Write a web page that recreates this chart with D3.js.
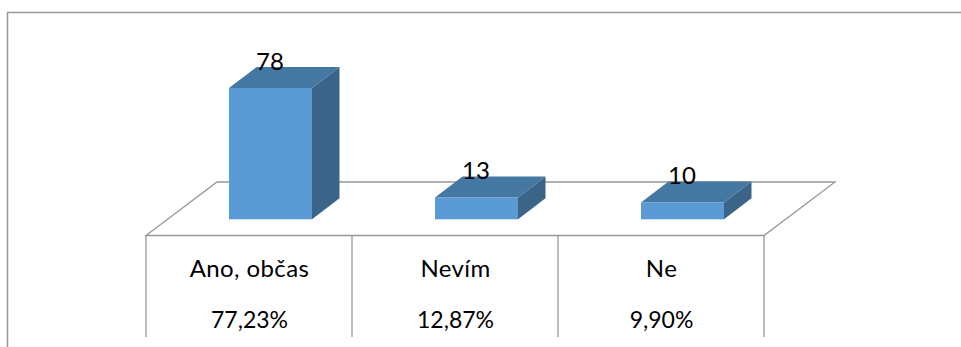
<!DOCTYPE html>
<html><head><meta charset="utf-8">
<script src="https://cdn.jsdelivr.net/npm/d3@7"></script>
<style>html,body{margin:0;padding:0;background:#fff}svg{display:block}text{font-family:Lato,"Open Sans",sans-serif;fill:#000}</style>
</head><body><div id="c"></div>
<script>
const categories = ["Ano, občas", "Nevím", "Ne"];
const values = [78, 13, 10];
const percents = ["77,23%", "12,87%", "9,90%"];

const W = 961, H = 347;
const svg = d3.select("#c").append("svg").attr("width", W).attr("height", H);
const grey = "#989898";

const x = d3.scaleBand().domain(categories).range([146, 764]);
const y = d3.scaleLinear().domain([0, 78]).range([219.3, 88]);
const dx = 27.5, dy = -21, bw = 83;
const barX = c => x(c) + 83;

// outer frame
svg.append("path").attr("d", "M7.5,347V12.5H961").attr("fill", "none").attr("stroke", grey).attr("stroke-width", 1.5);

// floor
svg.append("path").attr("d", `M146,235.5L217,182H835L764,235.5Z`).attr("fill", "#fff").attr("stroke", grey).attr("stroke-width", 1.3);

// data table lines
const tableBottom = 337;
const edges = categories.map(c => x(c)).concat([x.range()[1]]);
svg.selectAll("line.col").data(edges).join("line").attr("class", "col")
  .attr("x1", d => d).attr("x2", d => d).attr("y1", 235.5).attr("y2", tableBottom)
  .attr("stroke", grey).attr("stroke-width", 1.3);

// bars
const bars = svg.selectAll("g.bar").data(categories.map((c, i) => ({c, v: values[i], p: percents[i]}))).join("g").attr("class", "bar");
bars.append("path").attr("fill", "#3a6589").attr("d", d => {
  const r = barX(d.c) + bw, t = y(d.v), b = y(0);
  return `M${r},${t}l${dx},${dy}V${b + dy}L${r},${b}Z`;
});
bars.append("path").attr("fill", "#4577a3").attr("d", d => {
  const l = barX(d.c), t = y(d.v);
  return `M${l},${t}l${dx},${dy}h${bw}l${-dx},${-dy}Z`;
});
bars.append("rect").attr("fill", "#5b9bd5")
  .attr("x", d => barX(d.c)).attr("width", bw)
  .attr("y", d => y(d.v)).attr("height", d => y(0) - y(d.v));
bars.append("text").attr("text-anchor", "middle").attr("font-size", 24)
  .attr("x", d => barX(d.c) + bw / 2 - 0.5).attr("y", d => y(d.v) - 18.5).text(d => d.v);

// table text
bars.append("text").attr("text-anchor", "middle").attr("font-size", 24).attr("letter-spacing", 0.4)
  .attr("x", d => x(d.c) + x.bandwidth() / 2 + 0.5).attr("y", 277).text(d => d.c);
bars.append("text").attr("text-anchor", "middle").attr("font-size", 23)
  .attr("x", d => x(d.c) + x.bandwidth() / 2 + 0.5).attr("y", 328).text(d => d.p);
</script></body></html>
